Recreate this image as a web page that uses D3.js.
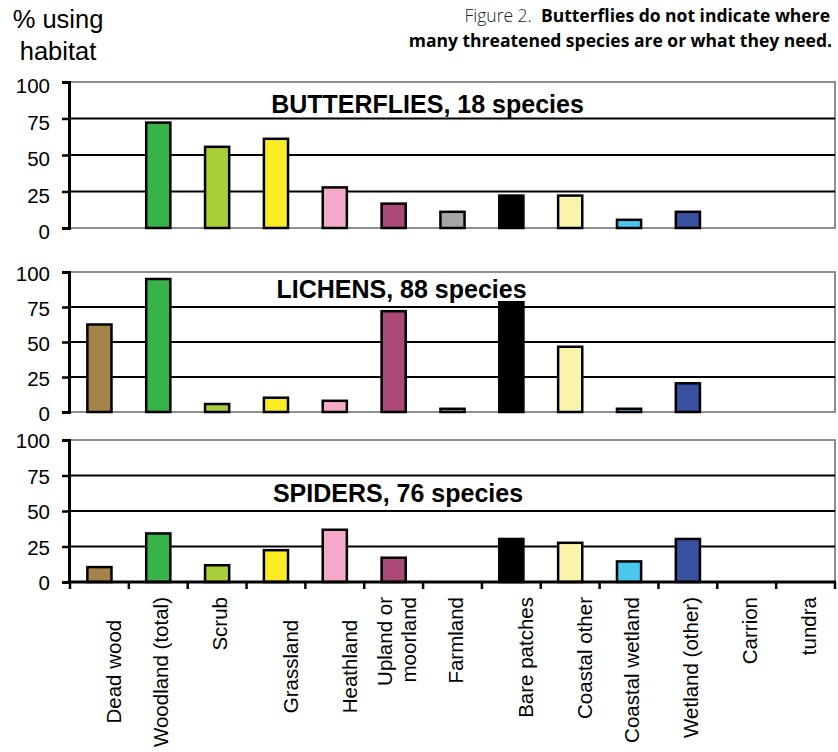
<!DOCTYPE html>
<html><head><meta charset="utf-8">
<script src="https://cdn.jsdelivr.net/npm/d3@7"></script>
<style>
html,body{margin:0;padding:0;background:#fff;}
svg{display:block;}
text{font-family:"Liberation Sans",Arial,sans-serif;}
</style></head>
<body>
<svg id="chart" width="838" height="752"></svg>
<script>
// ---- data ----
const categories = ["Dead wood","Woodland (total)","Scrub","Grassland","Heathland","Upland or moorland","Farmland","Bare patches","Coastal other","Coastal wetland","Wetland (other)","Carrion","tundra"];
const categoryLabelLines = [["","Dead wood    "],["Woodland (total)"],["Scrub"],["","Grassland    "],["","Heathland    "],["Upland or","moorland"],["Farmland"],["","Bare patches"],["","Coastal other"],["Coastal wetland"],["Wetland (other)"],["Carrion"],["tundra"]];
const categoryColors = ["#a4844a","#37b34a","#a8cf38","#f9ec23","#f4a9cb","#ab4a78","#a6a6a6","#000000","#faf4ab","#49c7ee","#3a50a1","#ffffff","#ffffff"];
const butterflies = [0,72.2,55.6,61.1,27.8,16.7,11.1,22.2,22.2,5.6,11.1,0,0];
const lichens = [62.5,95.0,5.7,10.2,8.0,72.0,2.3,78.4,46.6,2.3,20.5,0,0];
const spiders = [10.5,34.2,11.8,22.4,36.8,17.1,0,30.3,27.6,14.5,30.3,0,0];
const seriesTitles = ["BUTTERFLIES, 18 species","LICHENS, 88 species","SPIDERS, 76 species"];
const yTicks = [0,25,50,75,100];
const yAxisTitle = ["% using","habitat"];
const captionLight = "Figure 2.";
const captionBold1 = "Butterflies do not indicate where";
const captionBold2 = "many threatened species are or what they need.";

// ---- layout ----
const svg = d3.select("#chart");
const left = 69, right = 835;
const panelLayout = [
  {top:82, bottom:228, tx:427.5, ty:113, dy:3},
  {top:272, bottom:412, tx:401.5, ty:298, dy:1},
  {top:440, bottom:582, tx:398, ty:502, dy:0}
];
const seriesList = [butterflies, lichens, spiders];

const x = d3.scaleBand().domain(categories).range([left+1, right]).paddingInner(0.59).paddingOuter(0.295);

// Caption
const cap = svg.append("text").attr("x", 830).attr("y", 22).attr("text-anchor","end")
  .style("font-family","'Open Sans',sans-serif").style("font-size","17.5px").style("white-space","pre");
cap.append("tspan").style("font-weight","300").attr("fill","#222").text(captionLight + "  ");
cap.append("tspan").style("font-weight","700").text(captionBold1);
svg.append("text").attr("x", 832).attr("y", 46.5).attr("text-anchor","end")
  .style("font-family","'Open Sans',sans-serif").style("font-size","17.5px").style("font-weight","700")
  .text(captionBold2);

// Y axis title
svg.append("text").attr("x",58).attr("y",28).attr("text-anchor","middle").style("font-size","25.5px").text(yAxisTitle[0]);
svg.append("text").attr("x",58).attr("y",60).attr("text-anchor","middle").style("font-size","25.5px").text(yAxisTitle[1]);

seriesList.forEach((vals, pi) => {
  const L = panelLayout[pi];
  const y = d3.scaleLinear().domain([0,100]).range([L.bottom, L.top]);
  const g = svg.append("g");
  // frame
  g.append("rect").attr("x", left).attr("y", L.top).attr("width", right-left).attr("height", L.bottom-L.top)
    .attr("fill","none").attr("stroke","#8e8e8e").attr("stroke-width",2);
  // gridlines
  g.selectAll("line.grid").data([25,50,75]).join("line").attr("class","grid")
    .attr("x1", left).attr("x2", right).attr("y1", d=>y(d)).attr("y2", d=>y(d))
    .attr("stroke","#000").attr("stroke-width",2);
  // title
  g.append("text").attr("x", L.tx).attr("y", L.ty).attr("text-anchor","middle")
    .style("font-size","25px").style("font-weight","700").text(seriesTitles[pi]);
  // bars
  g.selectAll("rect.bar").data(categories.map((c,i)=>({c, v: vals[i], col: categoryColors[i]})).filter(d=>d.v>0))
    .join("rect").attr("class","bar")
    .attr("x", d=>x(d.c)).attr("width", x.bandwidth())
    .attr("y", d=>y(d.v)).attr("height", d=>y(0)-y(d.v))
    .attr("fill", d=>d.col).attr("stroke","#000").attr("stroke-width",2.5);
  // left axis
  const ax = d3.axisLeft(y).tickValues(yTicks).tickSize(7).tickPadding(12).tickFormat(d3.format("d"));
  const ag = g.append("g").attr("transform", `translate(${left},0)`).call(ax);
  ag.select(".domain").attr("stroke","#000").attr("stroke-width",3);
  ag.selectAll(".tick line").attr("stroke","#000").attr("stroke-width",2.5);
  ag.selectAll(".tick text").attr("dy", null).attr("y", L.dy).attr("dominant-baseline","central")
    .style("font-size","20.5px").style("font-family","'Liberation Sans',Arial,sans-serif").attr("fill","#000");
  if (pi === 2) {
    const bounds = categories.map(c=>x(c) - x.step()*x.paddingInner()/2).concat([right]);
    g.append("line").attr("x1", left).attr("x2", right+1).attr("y1", L.bottom).attr("y2", L.bottom)
      .attr("stroke","#000").attr("stroke-width",3);
    g.selectAll("line.xt").data(bounds).join("line").attr("class","xt")
      .attr("x1", d=>d).attr("x2", d=>d).attr("y1", L.bottom).attr("y2", L.bottom+7)
      .attr("stroke","#000").attr("stroke-width",2.5);
    // category labels
    categories.forEach((c,i) => {
      const lines = categoryLabelLines[i];
      const cx = x(c) + x.bandwidth()/2;
      const n = lines.length;
      lines.forEach((t,j) => {
        if (!t) return;
        const bx = cx + 10 + (j - (n-1)/2)*24;
        g.append("text").attr("transform", `translate(${bx},597) rotate(-90)`)
          .attr("text-anchor","end").style("font-size","20.5px").style("white-space","pre")
          .text(t);
      });
    });
  }
});
</script>
</body></html>
